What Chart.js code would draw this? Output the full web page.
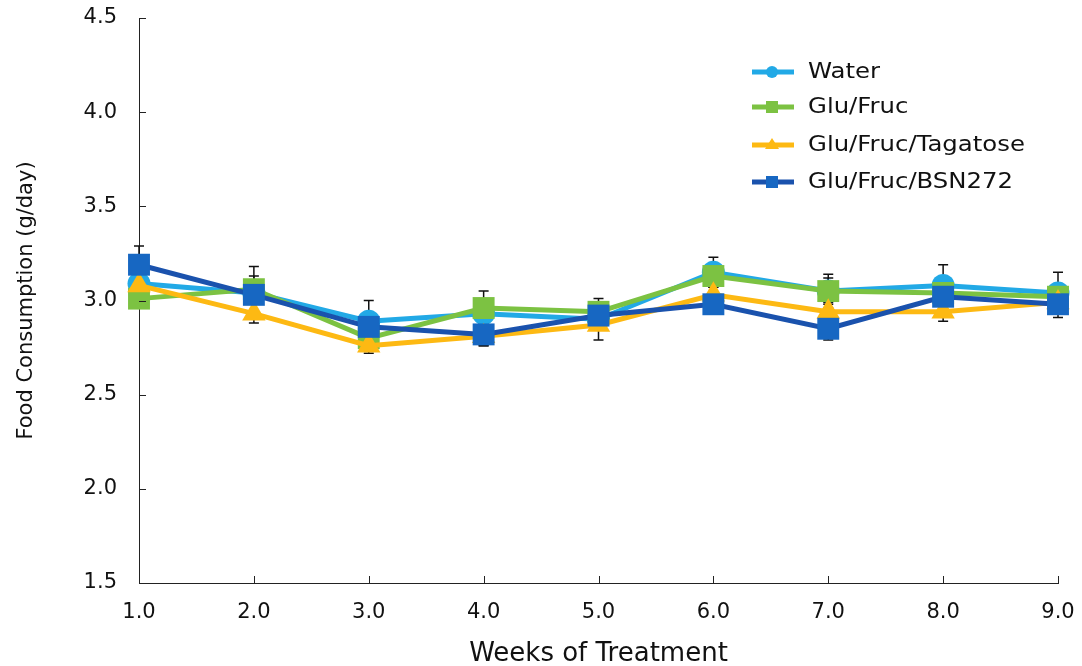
<!DOCTYPE html>
<html>
<head>
<meta charset="utf-8">
<script src="https://cdn.jsdelivr.net/npm/chart.js@4.4.1/dist/chart.umd.min.js"></script>
<style>
  html, body { margin: 0; padding: 0; background: #fff; }
  #wrap { position: relative; width: 1082px; height: 666px; }
  #legend { position: absolute; left: 752px; top: 0; font-family: "DejaVu Sans", sans-serif; font-size: 21px; color: #111; }
  .item { position: absolute; left: 0; height: 30px; width: 320px; }
  .item svg { position: absolute; left: 0; top: 5px; }
  .item span { position: absolute; left: 56px; top: 2px; white-space: nowrap; transform: scaleX(1.16); transform-origin: left center; }
</style>
</head>
<body>
<div id="wrap">
  <canvas id="c" width="1082" height="666"></canvas>
  <div id="legend"></div>
</div>
<script>
// ---- data ----
const weeks = [1, 2, 3, 4, 5, 6, 7, 8, 9];
const seriesNames = ["Water", "Glu/Fruc", "Glu/Fruc/Tagatose", "Glu/Fruc/BSN272"];
const water    = [3.09, 3.04, 2.89, 2.93, 2.90, 3.15, 3.05, 3.08, 3.04];
const gluFruc  = [3.01, 3.06, 2.80, 2.96, 2.94, 3.13, 3.05, 3.04, 3.02];
const tagatose = [3.08, 2.93, 2.76, 2.81, 2.87, 3.03, 2.94, 2.94, 2.99];
const bsn272   = [3.19, 3.03, 2.86, 2.82, 2.92, 2.98, 2.85, 3.02, 2.98];
// error (SEM) values
const waterErr    = [0.05, 0.14, 0.11, 0.05, 0.05, 0.08, 0.09, 0.11, 0.11];
const gluFrucErr  = [0.05, 0.07, 0.05, 0.09, 0.07, 0.06, 0.07, 0.05, 0.05];
const tagatoseErr = [0.05, 0.05, 0.04, 0.05, 0.08, 0.05, 0.05, 0.05, 0.05];
const bsn272Err   = [0.10, 0.05, 0.05, 0.06, 0.05, 0.05, 0.06, 0.05, 0.07];
const yTicks = [1.5, 2.0, 2.5, 3.0, 3.5, 4.0, 4.5];
const xTicks = [1, 2, 3, 4, 5, 6, 7, 8, 9];

const colors = {
  water:  { line: "#22a9e6", point: "#22a9e6" },
  glu:    { line: "#7cc242", point: "#7cc242" },
  tag:    { line: "#fdb913", point: "#fdb913" },
  bsn:    { line: "#1a52ad", point: "#1767c2" }
};

function pts(vals) { return weeks.map((w, i) => ({ x: w, y: vals[i] })); }

const datasets = [
  { label: seriesNames[0], data: pts(water), errors: waterErr, borderColor: colors.water.line,
    backgroundColor: colors.water.point, pointStyle: "circle", pointRadius: 11.5, order: 4 },
  { label: seriesNames[1], data: pts(gluFruc), errors: gluFrucErr, borderColor: colors.glu.line,
    backgroundColor: colors.glu.point, pointStyle: "rect", pointRadius: 15.5, order: 3 },
  { label: seriesNames[2], data: pts(tagatose), errors: tagatoseErr, borderColor: colors.tag.line,
    backgroundColor: colors.tag.point, pointStyle: "triangle", pointRadius: 13.5, order: 2 },
  { label: seriesNames[3], data: pts(bsn272), errors: bsn272Err, borderColor: colors.bsn.line,
    backgroundColor: colors.bsn.point, pointStyle: "rect", pointRadius: 15.5, order: 1 }
].map(d => Object.assign(d, {
  borderWidth: 5, pointBorderWidth: 0, pointBorderColor: d.backgroundColor,
  pointBackgroundColor: d.backgroundColor, tension: 0, fill: false, clip: false
}));

// error bars (drawn under the series)
const errorBars = {
  id: "errorBars",
  beforeDatasetsDraw(chart) {
    const ctx = chart.ctx, xs = chart.scales.x, ys = chart.scales.y;
    ctx.save();
    ctx.strokeStyle = "#111";
    ctx.lineWidth = 1.5;
    chart.data.datasets.forEach(ds => {
      ds.data.forEach((p, i) => {
        const e = ds.errors[i];
        const px = xs.getPixelForValue(p.x);
        const top = ys.getPixelForValue(p.y + e);
        const bot = ys.getPixelForValue(p.y - e);
        ctx.beginPath();
        ctx.moveTo(px, top); ctx.lineTo(px, bot);
        ctx.moveTo(px - 5, top); ctx.lineTo(px + 5, top);
        ctx.moveTo(px - 5, bot); ctx.lineTo(px + 5, bot);
        ctx.stroke();
      });
    });
    ctx.restore();
  }
};

// inward tick marks on the axes
const innerTicks = {
  id: "innerTicks",
  afterDraw(chart) {
    const ctx = chart.ctx, xs = chart.scales.x, ys = chart.scales.y, a = chart.chartArea;
    ctx.save();
    ctx.strokeStyle = "#222";
    ctx.lineWidth = 1;
    ctx.beginPath();
    yTicks.forEach(v => {
      const y = Math.round(ys.getPixelForValue(v)) + 0.5;
      ctx.moveTo(a.left, y); ctx.lineTo(a.left + 7, y);
    });
    xTicks.forEach(v => {
      const x = Math.round(xs.getPixelForValue(v)) + 0.5;
      ctx.moveTo(x, a.bottom); ctx.lineTo(x, a.bottom - 7);
    });
    ctx.stroke();
    ctx.restore();
  }
};

new Chart(document.getElementById("c"), {
  type: "line",
  data: { datasets },
  options: {
    responsive: false,
    animation: false,
    events: [],
    layout: { padding: { left: 0, right: 24, top: 18, bottom: 0 } },
    plugins: { legend: { display: false }, tooltip: { enabled: false } },
    scales: {
      x: {
        type: "linear", min: 1, max: 9,
        afterFit(s) { s.height = 83; s.paddingLeft = 0; s.paddingRight = 0; s.paddingTop = 0; s.paddingBottom = 0; },
        afterBuildTicks(s) { s.ticks = xTicks.map(v => ({ value: v })); },
        grid: { drawOnChartArea: false, drawTicks: false, color: "#222" },
        border: { display: true, color: "#222", width: 1 },
        ticks: { padding: 17, color: "#111", font: { family: "DejaVu Sans", size: 21 },
                 callback: v => Number(v).toFixed(1), maxRotation: 0, autoSkip: false },
        title: { display: true, text: "Weeks of Treatment", color: "#111",
                 font: { family: "DejaVu Sans", size: 26 }, padding: { top: 0, bottom: -4 } }
      },
      y: {
        type: "linear", min: 1.5, max: 4.5,
        afterFit(s) { s.width = 139; s.paddingLeft = 0; s.paddingRight = 0; s.paddingTop = 0; s.paddingBottom = 0; },
        afterBuildTicks(s) { s.ticks = yTicks.map(v => ({ value: v })); },
        grid: { drawOnChartArea: false, drawTicks: false, color: "#222" },
        border: { display: true, color: "#222", width: 1 },
        ticks: { padding: 22, color: "#111", font: { family: "DejaVu Sans", size: 21 },
                 callback: v => Number(v).toFixed(1), autoSkip: false },
        title: { display: true, text: "Food Consumption (g/day)", color: "#111",
                 font: { family: "DejaVu Sans", size: 21 }, padding: { top: 14, bottom: 0 } }
      }
    }
  },
  plugins: [errorBars, innerTicks]
});

// HTML legend
const legendTops = [72, 107, 145, 182];
const legend = document.getElementById("legend");
datasets.forEach((d, i) => {
  const item = document.createElement("div");
  item.className = "item";
  item.style.top = (legendTops[i] - 15) + "px";
  let marker;
  if (d.pointStyle === "circle") marker = `<circle cx="20" cy="10" r="6" fill="${d.backgroundColor}"/>`;
  else if (d.pointStyle === "rect") marker = `<rect x="14" y="4" width="12" height="12" fill="${d.backgroundColor}"/>`;
  else marker = `<polygon points="20,3 27,14 13,14" fill="${d.backgroundColor}"/>`;
  item.innerHTML = `<svg width="42" height="20"><line x1="0" y1="10" x2="42" y2="10" stroke="${d.borderColor}" stroke-width="5"/>${marker}</svg><span>${d.label}</span>`;
  legend.appendChild(item);
});
</script>
</body>
</html>
